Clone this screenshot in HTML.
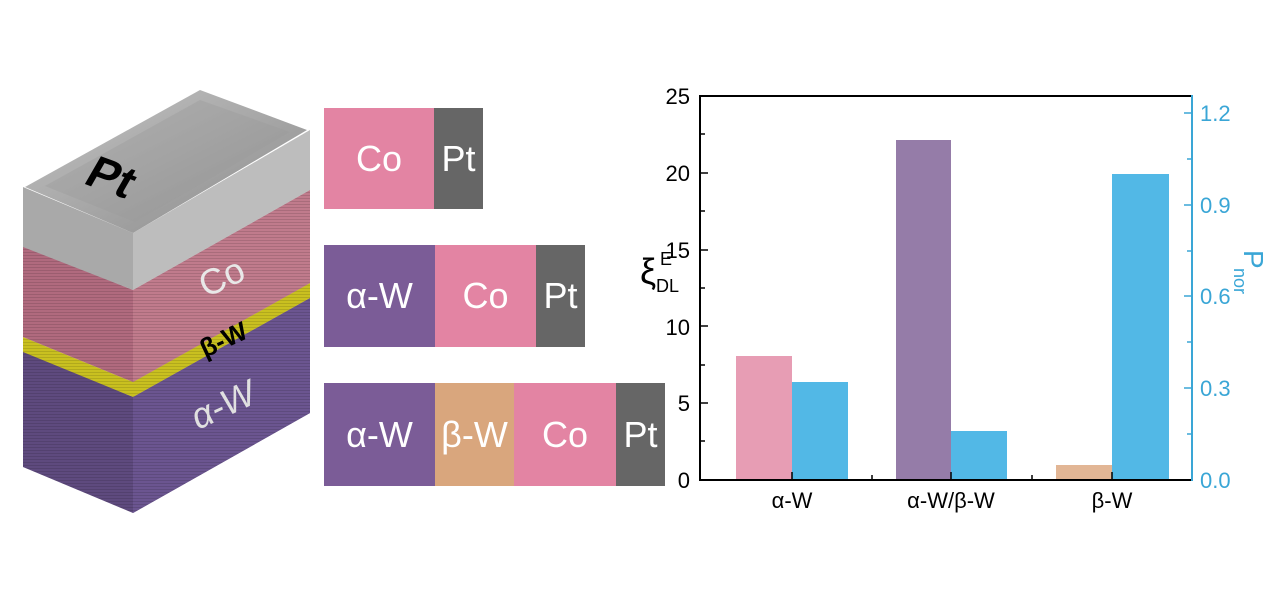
<!DOCTYPE html>
<html><head><meta charset="utf-8"><style>
html,body{margin:0;padding:0;background:#fff;}
body{width:1269px;height:594px;overflow:hidden;position:relative;font-family:"Liberation Sans",sans-serif;}
.b{position:absolute;color:#fff;font-size:36px;display:flex;align-items:center;justify-content:center;}
</style></head><body>
<svg width="1269" height="594" style="position:absolute;left:0;top:0" font-family="Liberation Sans, sans-serif">
<defs>
<pattern id="ln" width="4" height="3" patternUnits="userSpaceOnUse"><rect width="4" height="1" fill="rgba(0,0,0,0.12)"/></pattern>
<linearGradient id="pt" x1="0" y1="0" x2="1" y2="1"><stop offset="0" stop-color="#c4c4c4"/><stop offset="0.5" stop-color="#a8a8a8"/><stop offset="1" stop-color="#8a8a8a"/></linearGradient>
</defs>
<polygon points="23,350 133,397 310,298 310,413 133,513 23,467" fill="#5e4a7e"/>
<polygon points="133,397 310,298 310,413 133,513" fill="#6b5590"/>
<polygon points="23,337 133,382 310,283 310,298 133,397 23,352" fill="#c9c020"/>
<polygon points="23,245 133,290 310,190 310,283 133,382 23,337" fill="#b06a7e"/>
<polygon points="133,290 310,190 310,283 133,382" fill="#c07b8c"/>
<polygon points="23,190 133,233 310,130 310,413 133,513 23,467" fill="url(#ln)"/>
<polygon points="23,187 133,233 133,290 23,247" fill="#a9a9a9"/>
<polygon points="133,233 310,130 310,190 133,290" fill="#bdbdbd"/>
<polygon points="25,187 200,90 307,130 133,233" fill="url(#pt)"/>
<polygon points="45,186 200,100 290,132 135,222" fill="#9a9a9a" opacity="0.4"/>
<text x="0" y="0" font-size="46" font-weight="bold" fill="#000" transform="translate(82,183) rotate(20) skewX(-10)">Pt</text>
<text x="0" y="0" font-size="36" fill="#e8e8e8" transform="translate(206,298) rotate(-25)">Co</text>
<text x="0" y="0" font-size="26" font-weight="bold" fill="#000" transform="translate(205,358) rotate(-25)">β-W</text>
<text x="0" y="0" font-size="36" fill="#e0e0e0" font-style="italic" transform="translate(198,430) rotate(-25)">α-W</text>

<g>
<rect x="736" y="356" width="56" height="124" fill="#e79db4"/>
<rect x="792" y="382" width="56" height="98" fill="#52b8e6"/>
<rect x="896" y="140" width="55" height="340" fill="#957ca8"/>
<rect x="951" y="431" width="56" height="49" fill="#52b8e6"/>
<rect x="1056" y="465" width="56" height="15" fill="#e2b695"/>
<rect x="1112" y="174" width="57" height="306" fill="#52b8e6"/>
</g>
<line x1="700" y1="96" x2="1192" y2="96" stroke="#000" stroke-width="2"/>
<line x1="700" y1="95" x2="700" y2="481" stroke="#000" stroke-width="2"/>
<line x1="699" y1="480" x2="1192" y2="480" stroke="#000" stroke-width="2"/>
<line x1="1192" y1="95" x2="1192" y2="481" stroke="#3aa6d6" stroke-width="2"/>
<g stroke="#000" stroke-width="1.5">
<line x1="700" y1="403" x2="708" y2="403"/><line x1="700" y1="326" x2="708" y2="326"/><line x1="700" y1="250" x2="708" y2="250"/><line x1="700" y1="173" x2="708" y2="173"/>
<line x1="700" y1="441" x2="705" y2="441"/><line x1="700" y1="365" x2="705" y2="365"/><line x1="700" y1="288" x2="705" y2="288"/><line x1="700" y1="211" x2="705" y2="211"/><line x1="700" y1="134" x2="705" y2="134"/>
<line x1="792" y1="480" x2="792" y2="472"/><line x1="951" y1="480" x2="951" y2="472"/><line x1="1112" y1="480" x2="1112" y2="472"/>
<line x1="872" y1="480" x2="872" y2="475"/><line x1="1032" y1="480" x2="1032" y2="475"/>
</g>
<g stroke="#3aa6d6" stroke-width="1.5">
<line x1="1192" y1="113" x2="1184" y2="113"/><line x1="1192" y1="205" x2="1184" y2="205"/><line x1="1192" y1="296" x2="1184" y2="296"/><line x1="1192" y1="388" x2="1184" y2="388"/>
<line x1="1192" y1="159" x2="1187" y2="159"/><line x1="1192" y1="251" x2="1187" y2="251"/><line x1="1192" y1="342" x2="1187" y2="342"/><line x1="1192" y1="434" x2="1187" y2="434"/>
</g>
<g font-size="22" fill="#000" text-anchor="end">
<text x="690" y="488">0</text><text x="690" y="411">5</text><text x="690" y="335">10</text><text x="690" y="258">15</text><text x="690" y="181">20</text><text x="690" y="104">25</text>
</g>
<g font-size="22" fill="#3aa6d6">
<text x="1200" y="488">0.0</text><text x="1200" y="396">0.3</text><text x="1200" y="304">0.6</text><text x="1200" y="213">0.9</text><text x="1200" y="121">1.2</text>
</g>
<g font-size="22" fill="#000" text-anchor="middle">
<text x="792" y="508">α-W</text><text x="951" y="508">α-W/β-W</text><text x="1112" y="508">β-W</text>
</g>
<text x="640" y="284" font-size="36" fill="#000">ξ</text>
<text x="660" y="265" font-size="18" fill="#000">E</text>
<text x="656" y="292" font-size="18" fill="#000">DL</text>
<text x="0" y="0" font-size="28" fill="#3aa6d6" transform="translate(1244,250) rotate(90)">P</text>
<text x="0" y="0" font-size="18" fill="#3aa6d6" transform="translate(1234,268) rotate(90)">nor</text>
</svg>
<div class="b" style="left:324px;top:108px;width:110px;height:101px;background:#e384a3">Co</div>
<div class="b" style="left:434px;top:108px;width:49px;height:101px;background:#666">Pt</div>
<div class="b" style="left:324px;top:245px;width:111px;height:102px;background:#7b5c97">α-W</div>
<div class="b" style="left:435px;top:245px;width:101px;height:102px;background:#e384a3">Co</div>
<div class="b" style="left:536px;top:245px;width:49px;height:102px;background:#666">Pt</div>
<div class="b" style="left:324px;top:383px;width:111px;height:103px;background:#7b5c97">α-W</div>
<div class="b" style="left:435px;top:383px;width:79px;height:103px;background:#d9a67d">β-W</div>
<div class="b" style="left:514px;top:383px;width:102px;height:103px;background:#e384a3">Co</div>
<div class="b" style="left:616px;top:383px;width:49px;height:103px;background:#666">Pt</div>
</body></html>
